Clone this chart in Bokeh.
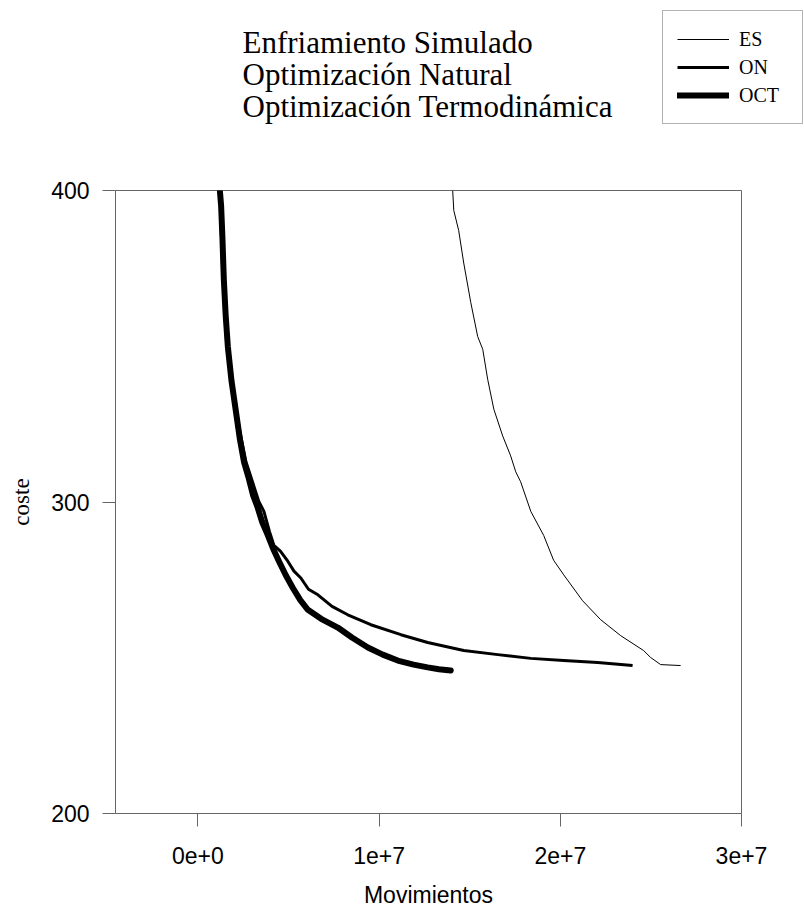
from bokeh.plotting import figure
from bokeh.layouts import column
from bokeh.models import Range1d, FixedTicker, Legend, LegendItem, Label, CustomJSTickFormatter
from bokeh.embed import file_html
from bokeh.resources import INLINE

# ---- data ----
es_x = [14.06e6, 14.12e6, 14.39e6, 14.67e6, 15.06e6, 15.44e6, 15.72e6, 15.99e6, 16.33e6,
        16.82e6, 17.26e6, 17.54e6, 17.81e6, 18.37e6, 19.08e6, 19.63e6, 20.19e6, 21.23e6,
        22.23e6, 23.33e6, 24.60e6, 24.98e6, 25.54e6, 26.64e6]
es_y = [400.0, 393.6, 387.2, 376.7, 364.0, 353.1, 349.0, 339.4, 329.8,
        321.2, 314.8, 309.7, 306.5, 297.0, 289.3, 281.3, 276.6, 268.3,
        262.2, 257.1, 252.3, 250.1, 247.8, 247.5]

on_x = [1.21e6, 1.38e6, 1.60e6, 2.10e6, 2.65e6, 3.36e6, 3.64e6, 3.95e6, 4.19e6, 4.55e6,
        4.96e6, 5.30e6, 5.68e6, 6.10e6, 6.62e6, 7.40e6, 8.27e6, 9.54e6, 11.20e6, 12.68e6,
        14.67e6, 16.55e6, 18.37e6, 20.19e6, 22.06e6, 23.99e6]
on_y = [400.0, 371.3, 349.9, 328.9, 312.9, 300.2, 297.0, 290.5, 286.1, 284.2,
        281.0, 277.8, 275.6, 272.0, 270.2, 266.5, 263.8, 260.6, 257.4, 254.9,
        252.3, 251.0, 249.8, 249.1, 248.5, 247.5]

oct_x = [1.21e6, 1.28e6, 1.35e6, 1.43e6, 1.53e6, 1.65e6, 1.85e6, 2.10e6, 2.32e6, 2.54e6,
         2.81e6, 3.05e6, 3.28e6, 3.55e6, 3.86e6, 4.15e6, 4.47e6, 4.85e6, 5.24e6, 5.65e6,
         6.07e6, 6.80e6, 7.72e6, 8.50e6, 9.38e6, 10.20e6, 11.03e6, 11.90e6, 12.68e6,
         13.30e6, 13.95e6]
oct_y = [400.0, 395.0, 385.0, 371.3, 360.0, 349.9, 339.0, 328.9, 320.0, 312.9,
         307.5, 302.0, 298.5, 293.5, 289.3, 285.0, 281.0, 276.5, 272.4, 268.5,
         265.4, 262.5, 259.7, 256.5, 253.3, 251.0, 249.1, 247.8, 246.9,
         246.3, 245.9]

series_labels = ["ES", "ON", "OCT"]
title_lines = ["Enfriamiento Simulado", "Optimización Natural", "Optimización Termodinámica"]
x_ticks = [0, 10000000, 20000000, 30000000]
x_tick_labels = ["0e+0", "1e+7", "2e+7", "3e+7"]
y_ticks = [200, 300, 400]

AX = "#666666"
W = 804
TOP_H = 150
FRAME_L, FRAME_R, FRAME_T, FRAME_B = 115, 741, 190, 817

# ---------------- header (title lines + legend) ----------------
ph = figure(width=W, height=TOP_H, output_backend="svg", toolbar_location=None,
            x_axis_type=None, y_axis_type=None,
            min_border_top=0, min_border_bottom=0)
can_unalign = "frame_align" in ph.properties()
if can_unalign:
    ph.frame_align = False
    ph.min_border_left = 0
    ph.min_border_right = 0
    hx0, hx1 = 0, W
else:
    ph.min_border_left = FRAME_L
    ph.min_border_right = W - FRAME_R
    hx0, hx1 = FRAME_L, FRAME_R
ph.x_range = Range1d(hx0, hx1)
ph.y_range = Range1d(0, TOP_H)
ph.grid.visible = False
ph.outline_line_color = None
ph.background_fill_color = "white"
ph.border_fill_color = "white"

# legend sample renderers: same series and styles, lying outside this header's view
l_es = ph.line(es_x, es_y, line_width=1, color="black")
l_on = ph.line(on_x, on_y, line_width=3, color="black")
l_oct = ph.line(oct_x, oct_y, line_width=6, color="black", line_cap="round")

legend = Legend(items=[LegendItem(label=series_labels[0], renderers=[l_es]),
                       LegendItem(label=series_labels[1], renderers=[l_on]),
                       LegendItem(label=series_labels[2], renderers=[l_oct])],
                location=(662 - hx0, 26))
legend.border_line_color = AX
legend.border_line_width = 1
legend.background_fill_alpha = 1
legend.label_text_font = "Liberation Serif"
legend.label_text_font_size = "20px"
legend.label_text_color = "black"
legend.padding = 14
legend.spacing = 0
legend.margin = 0
legend.glyph_width = 52
legend.glyph_height = 28
legend.label_height = 28
legend.label_standoff = 10
legend.label_width = 49
ph.add_layout(legend)

baselines = [52, 84, 116]
for txt, yb in zip(title_lines, baselines):
    ph.add_layout(Label(x=242, y=TOP_H - yb + 10, text=txt,
                        text_font="Liberation Serif", text_font_size="31px",
                        text_baseline="alphabetic", text_color="black"))

# ---------------- main chart ----------------
p = figure(width=W, height=910 - TOP_H, output_backend="svg", toolbar_location=None,
           x_range=Range1d(-4.55e6, 3e7), y_range=Range1d(200, 400),
           min_border_left=FRAME_L, min_border_right=W - FRAME_R, min_border_top=FRAME_T - TOP_H,
           min_border_bottom=910 - FRAME_B)
if can_unalign:
    p.frame_align = False

p.grid.visible = False
p.outline_line_color = AX
p.outline_line_width = 1
p.background_fill_color = "white"
p.border_fill_color = "white"

p.line(es_x, es_y, line_width=1, color="black")
p.line(on_x, on_y, line_width=3, color="black", line_join="round")
p.line(oct_x, oct_y, line_width=6, color="black", line_cap="round", line_join="round")

p.xaxis.ticker = FixedTicker(ticks=x_ticks)
p.xaxis.formatter = CustomJSTickFormatter(args=dict(labels=x_tick_labels), code="return labels[index]")
p.yaxis.ticker = FixedTicker(ticks=y_ticks)

for ax in (p.xaxis, p.yaxis):
    ax.axis_line_color = AX
    ax.major_tick_line_color = AX
    ax.major_tick_out = 13
    ax.major_tick_in = 0
    ax.minor_tick_out = 0
    ax.minor_tick_in = 0
    ax.major_label_text_font = "Liberation Sans"
    ax.major_label_text_font_size = "23px"
    ax.major_label_text_color = "black"
    ax.axis_label_text_color = "black"
    ax.axis_label_text_font_style = "normal"

p.xaxis.major_label_standoff = 20
p.xaxis.axis_label = "Movimientos"
p.xaxis.axis_label_text_font = "Liberation Sans"
p.xaxis.axis_label_text_font_size = "23px"
p.xaxis.axis_label_standoff = 15

p.yaxis.major_label_standoff = 13
p.yaxis.axis_label = "coste"
p.yaxis.axis_label_text_font = "Liberation Serif"
p.yaxis.axis_label_text_font_size = "23px"
p.yaxis.axis_label_standoff = 14

layout = column(ph, p, spacing=0)
open("out.html", "w").write(file_html(layout, INLINE))
